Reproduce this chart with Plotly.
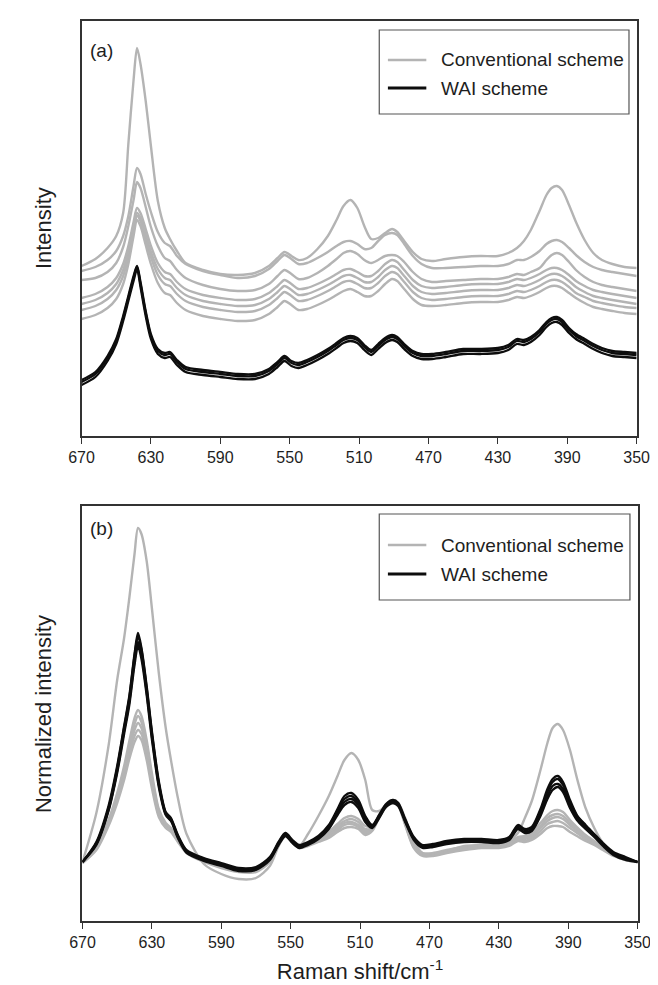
import plotly.graph_objects as go

W, H = 658, 985

# Raman shift grid (cm^-1)
raman_shift = [670, 662, 655, 650, 646, 643, 640, 638, 636, 633,
               630, 626, 622, 619, 615, 610, 600, 590, 580, 570,
               562, 557, 553, 549, 545, 540, 534, 528, 523, 519,
               515, 511, 507, 503, 499, 495, 491, 488, 484, 479,
               474, 468, 460, 450, 440, 430, 424, 419, 415, 411,
               406, 402, 399, 396, 393, 389, 385, 380, 375, 370,
               364, 357, 350]

tick_vals = [670, 630, 590, 550, 510, 470, 430, 390, 350]
tick_text = ["670", "630", "590", "550", "510", "470", "430", "390", "350"]

# ---------- panel (a): raw intensity (arbitrary units) ----------
conv_a_1 = [170,177,188,200,223,292,356,388,372,335,290,235,208,197,185,173,166,162,161,163,
            170,178,184,180,176,178,187,200,216,230,236,228,210,197,198,203,207,204,195,184,
            177,175,177,179,180,180,183,188,195,206,225,241,248,250,246,231,214,196,183,176,
            172,169,168]
conv_a_2 = [165,169,176,185,200,220,250,268,262,242,224,204,193,190,180,172,165,161,158,160,
            167,175,181,177,172,173,178,184,190,194,195,192,187,188,195,201,203,201,192,180,
            172,168,168,169,170,170,172,176,176,179,185,192,195,196,194,188,181,174,169,166,
            164,162,160]
conv_a_3 = [156,158,164,173,189,210,236,254,248,229,209,190,178,175,166,158,151,147,145,146,
            152,160,166,162,157,158,163,170,177,183,185,182,176,173,176,180,181,180,174,164,
            157,154,155,156,157,157,159,162,161,164,168,176,181,183,181,174,166,159,154,151,
            149,147,145]
conv_a_4 = [138,142,149,158,172,190,214,228,223,207,190,173,164,162,154,147,141,138,136,137,
            143,150,156,152,147,148,152,157,162,166,167,164,160,160,165,172,176,174,166,156,
            150,148,149,151,152,152,154,157,156,158,162,166,168,168,166,161,155,150,146,144,
            142,140,138]
conv_a_5 = [132,136,143,152,166,184,209,223,218,201,184,167,158,156,148,141,135,132,130,131,
            137,144,150,146,141,142,146,151,156,160,161,158,154,154,159,166,170,168,160,150,
            144,142,143,145,146,146,148,151,150,152,156,160,162,162,160,155,149,144,140,138,
            136,134,132]
conv_a_6 = [126,130,137,146,160,179,205,220,215,197,179,161,152,150,142,135,129,126,124,125,
            131,138,144,140,135,136,140,145,150,154,155,152,148,148,153,160,164,162,154,144,
            138,136,137,139,140,140,142,145,144,146,150,154,156,156,154,149,143,139,135,133,
            131,129,128]
conv_a_7 = [117,121,128,137,152,172,200,216,210,191,172,153,143,141,133,126,120,117,115,116,
            122,129,135,131,126,127,131,136,141,145,147,144,140,140,145,152,157,155,147,137,
            131,130,131,133,134,134,136,139,138,140,144,148,150,150,148,143,138,133,129,127,
            125,123,122]

wai_a_1 = [56,64,80,97,120,140,160,170,154,125,102,87,83,84,76,69,66,64,62,62,
           67,74,80,75,73,76,81,87,93,98,100,98,91,86,92,98,101,99,92,85,
           82,82,84,87,87,88,91,97,96,99,106,114,118,119,116,108,102,97,92,88,
           85,84,83]
wai_a_2 = [54,62,78,95,118,138,158,169,152,123,100,85,81,82,74,67,64,62,60,60,
           65,72,78,73,71,74,79,85,91,96,98,96,89,84,90,96,99,97,90,83,
           80,80,82,85,85,86,89,95,94,97,104,112,116,117,114,106,100,95,90,86,
           83,82,81]
wai_a_3 = [51,59,75,92,115,135,155,167,149,120,97,82,78,79,71,64,61,59,57,57,
           62,69,75,70,68,71,76,82,88,93,95,93,86,81,87,93,96,94,87,80,
           77,77,79,82,82,83,86,92,91,94,101,109,113,114,111,103,97,92,87,83,
           80,79,78]

# ---------- panel (b): normalized intensity (arbitrary units) ----------
conv_b_1 = [59,108,175,241,283,323,367,393,387,360,313,248,193,161,123,87,57,47,42,43,
            55,75,87,81,75,87,105,125,145,161,168,161,141,111,110,116,120,118,103,80,
            68,66,70,75,76,77,80,88,103,120,151,178,193,197,191,171,143,113,93,78,
            67,62,59]
conv_b_2 = [58,74,101,128,155,180,203,211,205,181,148,112,98,93,82,71,62,56,52,52,
            62,78,88,81,76,78,83,89,97,103,105,102,95,95,106,117,121,118,99,76,
            68,68,71,74,76,76,78,84,85,89,98,106,110,111,109,101,94,86,80,74,
            68,63,59]
conv_b_3 = [58,73,99,125,151,175,197,205,199,176,144,110,96,92,81,70,61,55,51,51,
            61,77,87,80,75,77,82,87,95,100,102,99,92,93,105,116,120,117,98,75,
            67,67,70,73,75,75,77,83,83,87,95,103,106,107,105,98,92,85,79,73,
            67,62,59]
conv_b_4 = [58,73,98,123,148,171,191,198,193,171,141,108,95,91,81,70,61,55,51,51,
            61,77,87,80,75,77,81,86,93,98,99,96,90,92,105,116,120,117,98,75,
            67,67,70,73,75,75,77,82,82,85,93,100,103,104,102,96,90,83,78,73,
            67,62,59]
conv_b_5 = [58,72,97,121,145,167,185,191,187,166,137,106,94,90,80,69,60,54,50,50,
            60,76,86,79,74,76,80,85,91,96,97,94,88,91,104,115,119,116,97,74,
            66,66,69,72,74,74,76,81,80,83,90,97,99,100,98,93,88,82,77,72,
            66,61,59]
conv_b_6 = [58,71,95,118,141,162,179,185,181,161,133,104,93,89,79,68,59,53,49,49,
            59,75,85,78,73,75,79,83,89,93,94,92,86,90,103,114,118,115,96,73,
            65,65,68,71,73,73,75,80,79,81,87,93,95,95,94,89,85,80,76,71,
            65,61,59]

wai_b_1 = [59,79,115,155,195,225,267,288,273,235,190,140,109,103,86,71,63,58,53,54,
           64,79,88,81,76,79,85,96,112,125,128,121,105,96,106,117,121,118,102,84,
           76,77,80,82,82,81,84,96,92,94,112,132,142,145,139,121,106,96,87,78,
           69,64,59]
wai_b_2 = [59,78,113,153,193,223,265,285,271,233,188,138,108,102,85,70,62,57,52,53,
           63,78,87,80,75,78,84,95,110,122,125,118,103,95,105,116,120,117,101,83,
           75,76,79,81,81,80,83,95,91,93,110,129,139,142,136,119,105,95,86,77,
           68,63,59]
wai_b_3 = [59,77,111,150,190,219,260,279,266,229,185,136,107,101,84,69,61,56,51,52,
           62,77,86,79,74,77,83,93,108,119,122,116,101,94,104,115,119,116,100,82,
           74,75,78,80,80,79,82,93,89,91,107,125,135,137,132,116,103,93,85,76,
           67,62,59]
wai_b_4 = [59,76,110,148,187,216,256,275,262,226,182,134,106,100,83,68,60,55,50,51,
           61,76,85,78,73,76,82,92,106,116,119,113,99,93,103,114,118,115,99,81,
           73,74,77,79,79,78,81,92,88,90,105,122,131,134,129,113,101,92,84,75,
           66,61,59]

conv_a = [conv_a_1, conv_a_2, conv_a_3, conv_a_4, conv_a_5, conv_a_6, conv_a_7]
wai_a = [wai_a_1, wai_a_2, wai_a_3]
conv_b = [conv_b_1, conv_b_2, conv_b_3, conv_b_4, conv_b_5, conv_b_6]
wai_b = [wai_b_1, wai_b_2, wai_b_3, wai_b_4]

GRAY = "#b4b4b4"
BLACK = "#0d0d0d"
FONT = "Liberation Sans, Arial, sans-serif"
TXT = "#1e1e1e"

fig = go.Figure()


def add_lines(series_list, color, width, xa, ya, name):
    for s in series_list:
        fig.add_trace(go.Scatter(
            x=raman_shift, y=s, mode="lines", name=name,
            line=dict(color=color, width=width, shape="spline", smoothing=0.8),
            xaxis=xa, yaxis=ya, showlegend=False, hoverinfo="skip"))


add_lines(conv_a, GRAY, 2.4, "x", "y", "Conventional scheme")
add_lines(wai_a, BLACK, 2.3, "x", "y", "WAI scheme")
add_lines(conv_b, GRAY, 2.4, "x2", "y2", "Conventional scheme")
add_lines(wai_b, BLACK, 2.3, "x2", "y2", "WAI scheme")


def px(x):
    return x / W


def py(y):
    return 1 - y / H


xcommon = dict(range=[670, 350], tickmode="array", tickvals=tick_vals, ticktext=tick_text,
               ticks="outside", ticklen=6, tickwidth=1, tickcolor="#333",
               showline=True, linecolor="#333", linewidth=1.5, mirror=True,
               showgrid=False, zeroline=False,
               tickfont=dict(family=FONT, size=16, color=TXT))
ycommon = dict(range=[0, 415], showticklabels=False, ticks="",
               showline=True, linecolor="#333", linewidth=1.5, mirror=True,
               showgrid=False, zeroline=False)

fig.update_layout(
    width=W, height=H,
    margin=dict(l=0, r=0, t=0, b=0),
    paper_bgcolor="white", plot_bgcolor="white",
    showlegend=False,
    xaxis=dict(domain=[px(63), px(641)], anchor="y", **xcommon),
    yaxis=dict(domain=[py(428), py(13)], anchor="x", **ycommon),
    xaxis2=dict(domain=[px(64), px(642)], anchor="y2", automargin=False,
                title=dict(text="Raman shift/cm<sup>-1</sup>", standoff=14,
                           font=dict(family=FONT, size=22, color=TXT)),
                **xcommon),
    yaxis2=dict(domain=[py(913), py(498)], anchor="x2", **ycommon),
)

annotations = []
shapes = []

# axis titles
annotations.append(dict(text="Intensity", x=px(23), y=py(220), xref="paper", yref="paper",
                        textangle=-90, showarrow=False, xanchor="center", yanchor="middle",
                        font=dict(family=FONT, size=22, color=TXT)))
annotations.append(dict(text="Normalized intensity", x=px(23), y=py(706), xref="paper", yref="paper",
                        textangle=-90, showarrow=False, xanchor="center", yanchor="middle",
                        font=dict(family=FONT, size=22, color=TXT)))

# panel labels
for lab, yc in [("(a)", 42), ("(b)", 520)]:
    annotations.append(dict(text=lab, x=px(70), y=py(yc), xref="paper", yref="paper",
                            showarrow=False, xanchor="left", yanchor="middle",
                            font=dict(family=FONT, size=19, color=TXT)))

# legends (boxed, drawn inside each panel)
for (bx0, by0, bx1, by1, r1, r2) in [(373, 22, 633, 106, 52, 80), (373, 506, 634, 592, 537, 566)]:
    shapes.append(dict(type="rect", xref="paper", yref="paper",
                       x0=px(bx0), x1=px(bx1), y0=py(by1), y1=py(by0),
                       line=dict(color="#555", width=1.2), fillcolor="white", layer="above"))
    shapes.append(dict(type="line", xref="paper", yref="paper",
                       x0=px(382), x1=px(422), y0=py(r1), y1=py(r1),
                       line=dict(color=GRAY, width=2.4), layer="above"))
    shapes.append(dict(type="line", xref="paper", yref="paper",
                       x0=px(382), x1=px(422), y0=py(r2), y1=py(r2),
                       line=dict(color=BLACK, width=3), layer="above"))
    annotations.append(dict(text="Conventional scheme", x=px(435), y=py(r1), xref="paper",
                            yref="paper", showarrow=False, xanchor="left", yanchor="middle",
                            font=dict(family=FONT, size=19, color=TXT)))
    annotations.append(dict(text="WAI scheme", x=px(435), y=py(r2), xref="paper",
                            yref="paper", showarrow=False, xanchor="left", yanchor="middle",
                            font=dict(family=FONT, size=19, color=TXT)))

fig.update_layout(annotations=annotations, shapes=shapes)

fig.write_html("out.html")
